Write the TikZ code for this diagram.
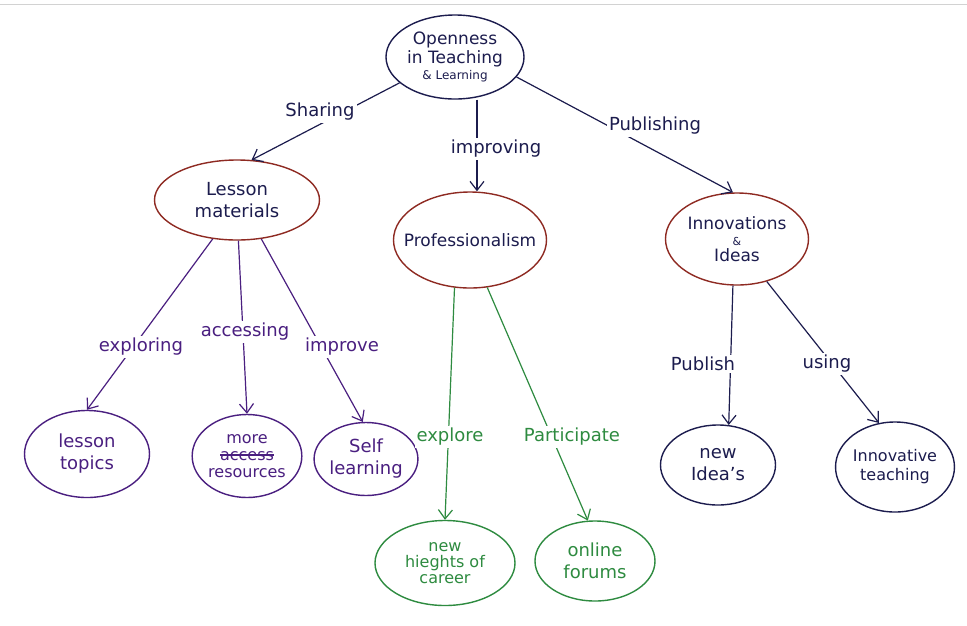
\documentclass[tikz,border=0pt]{standalone}
\usepackage{fontspec}
\setmainfont{DejaVu Sans}
\usetikzlibrary{shapes.geometric,arrows.meta}
\definecolor{navy}{HTML}{1C1C4E}
\definecolor{purp}{HTML}{4A1F80}
\definecolor{grn}{HTML}{2E8B40}
\definecolor{brick}{HTML}{8E2A22}
\newcommand\mystrike[1]{\setbox0\hbox{#1}\rlap{\rule[0.3em]{\wd0}{1.2pt}}\box0}
\tikzset{
  bub/.style={ellipse, draw, line width=1.4pt, inner sep=0pt, align=center, font=\fontsize{16}{19}\selectfont},
  big/.style={font=\fontsize{18}{22}\selectfont},
  lbl/.style={fill=white, inner sep=2pt, font=\fontsize{18}{21}\selectfont},
  arr/.style={line width=1.2pt, -{Straight Barb[length=9pt,width=14pt,line width=1.2pt]}},
}
\begin{document}
\begin{tikzpicture}[x=1pt,y=-1pt]
\useasboundingbox (0,0) rectangle (967,625);
\fill[white] (0,0) rectangle (967,625);
\draw[gray!35, line width=1pt] (0,4) -- (967,4);
% main nodes
\node[bub, draw=navy, text=navy, minimum width=138, minimum height=84, inner xsep=-4pt, font=\fontsize{17}{19}\selectfont] (top) at (455,57)
  {Openness\\in Teaching\\[-3pt]{\fontsize{12}{13}\selectfont \& Learning}};
\node[bub, big, draw=brick, text=navy, minimum width=165, minimum height=80] (lesson) at (237,200) {Lesson\\materials};
\node[bub, draw=brick, text=navy, minimum width=153, minimum height=96, inner xsep=-22pt, font=\fontsize{17}{20}\selectfont] (prof) at (470,240) {Professionalism};
\node[bub, draw=brick, text=navy, minimum width=143, minimum height=92, inner xsep=-6pt, font=\fontsize{17}{20}\selectfont] (innov) at (737,239)
  {Innovations\\[-4pt]{\fontsize{11}{12}\selectfont \&}\\[-4pt]Ideas};
% leaves
\node[bub, big, draw=purp, text=purp, minimum width=125, minimum height=87] (topics) at (87,454) {lesson\\topics};
\node[bub, draw=purp, text=purp, minimum width=104, minimum height=83] (res) at (247,456)
  {more\\[-2pt]\mystrike{access}\\[-2pt]resources};
\node[bub, big, draw=purp, text=purp, minimum width=103, minimum height=73] (self) at (366,459) {Self\\learning};
\node[bub, draw=grn, text=grn, minimum width=140, minimum height=85] (career) at (445,563) {new\\[-3pt]hieghts of\\[-3pt]career};
\node[bub, big, draw=grn, text=grn, minimum width=120, minimum height=80] (forums) at (595,561) {online\\forums};
\node[bub, big, draw=navy, text=navy, minimum width=115, minimum height=80] (ideas) at (718,465) {new\\Idea's};
\node[bub, draw=navy, text=navy, minimum width=114, minimum height=90] (teach) at (895,467) {Innovative\\teaching};
% connectors
\draw[arr, navy] (top.205) -- (lesson.70);
\draw[arr, navy] (top.south) ++(22,0) coordinate (t1) -- (t1 |- prof.north);
\draw[arr, navy] (top.-18) -- (innov.95);
\draw[arr, purp] (lesson.238) -- (topics.north);
\draw[arr, purp] (lesson.272) -- (res.north);
\draw[arr, purp] (lesson.302) -- (self.95);
\draw[arr, grn] (prof.252) -- (career.north);
\draw[arr, grn] (prof.290) -- (forums.100);
\draw[arr, navy] (innov.265) -- (ideas.75);
\draw[arr, navy] (innov.305) -- (teach.110);
% labels
\node[lbl, text=navy] (l1) at (320,112) {Sharing};
\node[lbl, text=navy] (l2) at (496,149) {improving};
\node[lbl, text=navy] (l3) at (655,126) {Publishing};
\node[lbl, text=purp] (l4) at (141,347) {exploring};
\node[lbl, text=purp] (l5) at (245,332) {accessing};
\node[lbl, text=purp] (l6) at (342,347) {improve};
\node[lbl, text=grn] (l7) at (450,437) {explore};
\node[lbl, text=grn] (l8) at (572,437) {Participate};
\node[lbl, text=navy] (l9) at (703,364) {Publish};
\node[lbl, text=navy] (l10) at (827,364) {using};
\end{tikzpicture}
\end{document}
